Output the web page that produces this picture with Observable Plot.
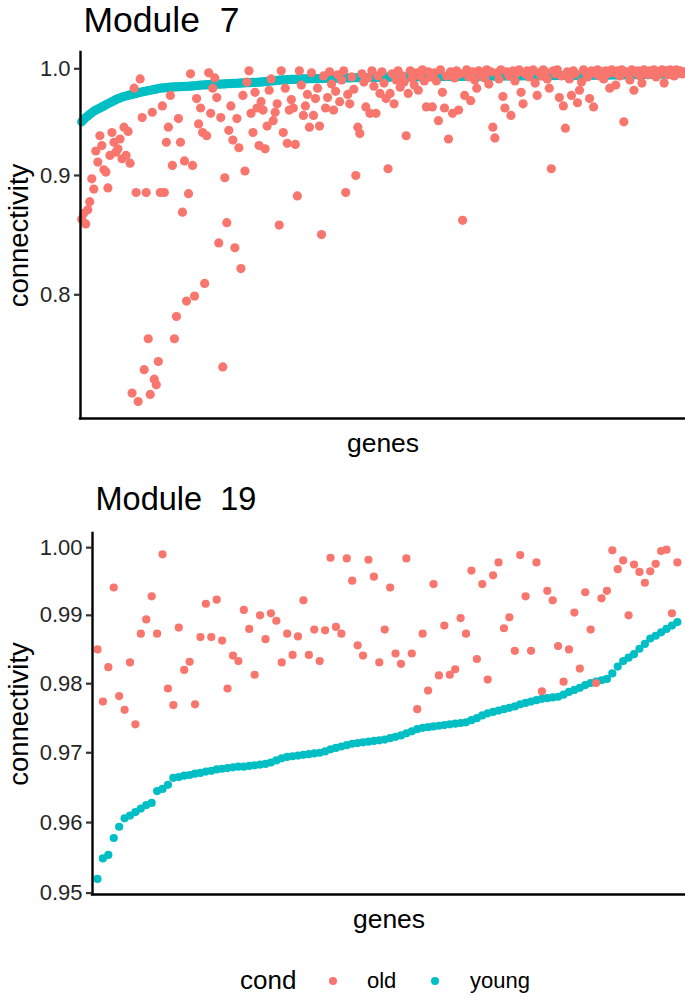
<!DOCTYPE html>
<html>
<head>
<meta charset="utf-8">
<script src="https://cdn.jsdelivr.net/npm/d3@7"></script>
<script src="https://cdn.jsdelivr.net/npm/@observablehq/plot@0.6"></script>
<style>
  body { margin: 0; background: #fff; }
  #wrap { position: relative; width: 685px; height: 999px; overflow: hidden;
          font-family: "Liberation Sans", Arial, Helvetica, sans-serif; color: #000; }
  #wrap text { white-space: pre; }
  .lg { position: absolute; white-space: nowrap; line-height: 1; }
  .dot { position: absolute; border-radius: 50%; }
</style>
</head>
<body>
<div id="wrap"></div>
<script>
// ---------------- data ----------------
const conds = ["old", "young"];
const condColors = ["#F8766D", "#00BFC4"];
const titles = ["Module  7", "Module  19"];
const yTicks7 = [0.8, 0.9, 1.0];
const yTicks19 = [0.95, 0.96, 0.97, 0.98, 0.99, 1.00];

// Module 7: connectivity per gene (genes ordered by young connectivity)
const young7 = [
  .9490,.9510,.9530,.9545,.9560,.9575,.9590,.9600,.9610,.9620,
  .9630,.9640,.9650,.9660,.9670,.9680,.9690,.9700,.9710,.9715,
  .9725,.9730,.9735,.9740,.9745,.9750,.9755,.9760,.9765,.9770,
  .9774,.9778,.9782,.9786,.9790,.9794,.9798,.9802,.9806,.9810,
  .9812,.9814,.9816,.9818,.9820,.9821,.9822,.9823,.9824,.9825,
  .9826,.9827,.9828,.9829,.9830,.9832,.9834,.9836,.9838,.9840,
  .9841,.9842,.9843,.9844,.9845,.9846,.9847,.9848,.9849,.9850,
  .9851,.9852,.9853,.9854,.9855,.9856,.9857,.9858,.9859,.9860,
  .9861,.9862,.9863,.9864,.9865,.9866,.9867,.9868,.9869,.9870,
  .9872,.9874,.9876,.9878,.9880,.9882,.9884,.9886,.9888,.9890,
  .9891,.9892,.9893,.9894,.9895,.9896,.9897,.9898,.9899,.9900,
  .9900,.9901,.9901,.9902,.9902,.9903,.9903,.9904,.9904,.9905,
  .9905,.9906,.9906,.9907,.9907,.9908,.9908,.9909,.9909,.9910,
  .9910,.9910,.9911,.9911,.9911,.9912,.9912,.9912,.9913,.9913,
  .9913,.9914,.9914,.9914,.9915,.9915,.9915,.9916,.9916,.9916,
  .9917,.9917,.9917,.9918,.9918,.9918,.9918,.9919,.9919,.9919,
  .9919,.9920,.9920,.9920,.9920,.9921,.9921,.9921,.9921,.9922,
  .9922,.9922,.9922,.9922,.9923,.9923,.9923,.9923,.9923,.9924,
  .9924,.9924,.9924,.9924,.9925,.9925,.9925,.9925,.9925,.9926,
  .9926,.9926,.9926,.9926,.9926,.9927,.9927,.9927,.9927,.9927,
  .9928,.9928,.9928,.9928,.9928,.9928,.9929,.9929,.9929,.9929,
  .9929,.9929,.9930,.9930,.9930,.9930,.9930,.9930,.9931,.9931,
  .9931,.9931,.9931,.9931,.9932,.9932,.9932,.9932,.9932,.9932,
  .9933,.9933,.9933,.9933,.9933,.9933,.9934,.9934,.9934,.9934,
  .9934,.9934,.9935,.9935,.9935,.9935,.9935,.9935,.9936,.9936,
  .9936,.9936,.9936,.9937,.9937,.9937,.9937,.9937,.9938,.9938,
  .9938,.9938,.9938,.9939,.9939,.9939,.9939,.9940,.9940,.9940,
  .9940,.9941,.9941,.9941,.9942,.9942,.9942,.9943,.9943,.9943,
  .9944,.9944,.9945,.9945,.9946,.9946,.9947,.9947,.9948,.9948,
  .9949,.9950,.9951,.9952,.9953,.9954,.9955,.9957,.9959,.9962
];
const old7 = [
  .862,.867,.858,.870,.877,.897,.888,.922,.912,.936,.927,.905,.903,.889,.918,.939,.930,.921,.924,.933,.915,
  .944,.918,.940,.911,.726,.981,.885,.720,.990,
  .953,.743,.885,.766,.725,.958,.736,.732,.749,.885,
  .964,.885,.930,.944,.974,.909,.766,.783,.952,.930,
  .868,.913,.795,.884,.995,.909,.799,.971,.947,.962,
  .939,.809,.936,.996,.957,.981,.991,.972,.842,.953,
  .745,.898,.859,.941,.964,.932,.838,.952,.925,.821,
  .974,.904,.987,.998,.957,.939,.977,.962,.927,.968,
  .960,.924,.945,.979,.990,.950,.958,.966,.857,.998,
  .939,.981,.929,.960,.970,.962,.928,.882,.998,.984,
  .955,.964,.975,.944,.996,.955,.971,.981,.945,.849,
  .993,.962,.972,.997,.985,.960,.978,.994,.968,.989,
  .998,.885,.975,.966,.992,.980,.900,.944,.938,.995,
  .987,.963,.991,.957,.998,.983,.957,.993,.976,.997,
  .986,.971,.906,.976,.995,.966,.989,.998,.982,.993,
  .987,.936,.976,.998,.991,.984,.996,.979,.993,.999,
  .988,.963,.997,.992,.963,.996,.988,.950,.999,.977,
  .962,.993,.933,.997,.957,.991,.998,.960,.995,.861,
  .974,.999,.992,.969,.997,.989,.981,.998,.994,.996,
  .991,.999,.985,.997,.944,.934,.996,.990,.999,.973,
  .962,.997,.993,.955,.998,.988,.996,.999,.977,.966,
  .995,.998,.992,.997,.999,.986,.974,.996,.993,.999,
  .997,.990,.981,.906,.998,.995,.999,.972,.993,.964,
  .943,.997,.990,.974,.998,.995,.967,.979,.987,.999,
  .996,.992,.971,.998,.963,.995,.999,.993,.997,.990,
  .998,.995,.981,.999,.996,.984,.998,.993,.999,.949,
  .997,.995,.989,.999,.979,.996,.998,.993,.986,.999,
  .997,.994,.998,.996,.999,.992,.997,.995,.999,.986,
  .998,.994,.999,.997,.993,.999,.996,.998,.995,.997
];

// Module 19
const young19 = [
  .9520,.9549,.9554,.9578,.9594,.9606,.9610,.9615,.9620,.9625,
  .9628,.9645,.9648,.9654,.9664,.9665,.9667,.9668,.9670,.9671,
  .9673,.9674,.9676,.9677,.9678,.9679,.9680,.9680,.9681,.9682,
  .9683,.9684,.9686,.9689,.9692,.9694,.9695,.9696,.9697,.9698,
  .9699,.9700,.9702,.9705,.9707,.9709,.9711,.9713,.9714,.9715,
  .9716,.9717,.9718,.9719,.9721,.9723,.9725,.9728,.9731,.9734,
  .9736,.9737,.9738,.9739,.9740,.9741,.9742,.9743,.9744,.9747,
  .9750,.9754,.9757,.9759,.9761,.9763,.9765,.9767,.9770,.9772,
  .9774,.9776,.9778,.9779,.9780,.9781,.9784,.9788,.9791,.9794,
  .9798,.9801,.9803,.9805,.9807,.9815,.9825,.9833,.9838,.9843,
  .9851,.9858,.9866,.9870,.9875,.9880,.9885,.9890
];
const old19 = [
  .9850,.9774,.9824,.9941,.9782,.9762,.9831,.9741,.9873,.9894,
  .9928,.9873,.9990,.9793,.9769,.9882,.9820,.9832,.9770,.9868,
  .9917,.9868,.9923,.9863,.9793,.9841,.9833,.9908,.9880,.9813,
  .9900,.9865,.9903,.9892,.9831,.9873,.9842,.9869,.9922,.9842,
  .9879,.9833,.9878,.9985,.9883,
  .9873,.9984,.9951,.9856,.9841,.9982,.9957,.9831,.9879,.9941,
  .9844,.9829,.9984,.9844,.9763,.9873,.9790,.9946,.9812,.9885,
  .9813,.9821,.9896,.9873,.9966,.9836,.9946,.9806,.9959,.9978,
  .9881,.9897,.9848,.9989,.9928,.9848,.9978,.9789,.9936,.9922,
  .9855,.9803,.9850,.9904,.9822,.9934,.9879,.9801,.9925,.9936,
  .9996,.9968,.9981,.9900,.9975,.9964,.9948,.9965,.9976,.9995,
  .9997,.9903,.9978
];

// ---------------- drawing ----------------
const FONT = "Liberation Sans, Arial, Helvetica, sans-serif";
const wrap = document.getElementById("wrap");

function rows(young, old) {
  const y = young.map((v, i) => ({gene: i + 1, v, cond: conds[1]}));
  const o = old.map((v, i) => ({gene: i + 1, v, cond: conds[0]}));
  return y.concat(o); // young drawn first, old on top
}

function panel({young, old, title, ticks, fmt, yDomain, xDomain, top, height, mt, mb, ml, r, titleDx, titleDy, titleSize}) {
  const data = rows(young, old);
  const f = d3.format(fmt);
  const chart = Plot.plot({
    width: 685, height,
    marginTop: mt, marginBottom: mb, marginLeft: ml, marginRight: 0,
    style: {fontFamily: FONT, background: "transparent", overflow: "visible"},
    x: {domain: xDomain, axis: null},
    y: {type: "log", domain: yDomain, axis: null},
    color: {domain: conds, range: condColors},
    marks: [
      Plot.dot(data, {x: "gene", y: "v", fill: "cond", r, stroke: "none"}),
      Plot.ruleX([xDomain[0]], {stroke: "#000", strokeWidth: 2.4, strokeLinecap: "square"}),
      Plot.ruleY([yDomain[0]], {stroke: "#000", strokeWidth: 2.4, strokeLinecap: "square"}),
      Plot.axisY({ticks, tickFormat: () => "", tickSize: 6, tickPadding: 4,
                  label: null, stroke: "#333", strokeWidth: 2.2}),
      Plot.text(ticks, {y: d => d, text: d => f(d), frameAnchor: "left", dx: -10,
                        textAnchor: "end", lineAnchor: "middle", fontSize: 22, fill: "#262626"}),
      Plot.text([title], {frameAnchor: "top-left", text: d => d, textAnchor: "start",
                          lineAnchor: "bottom", dx: titleDx, dy: titleDy, fontSize: titleSize, fill: "#000"}),
      Plot.text(["connectivity"], {frameAnchor: "left", text: d => d, rotate: -90,
                          textAnchor: "middle", lineAnchor: "bottom", dx: 27 - ml, fontSize: 27.5, fill: "#000"}),
      Plot.text(["genes"], {frameAnchor: "bottom", text: d => d, textAnchor: "middle",
                          lineAnchor: "bottom", dy: 33, fontSize: 26.5, fill: "#000"})
    ]
  });
  chart.style.position = "absolute";
  chart.style.top = top + "px";
  chart.style.left = "0px";
  wrap.appendChild(chart);
}

panel({young: young7, old: old7, title: titles[0], ticks: yTicks7, fmt: ".1f",
       yDomain: [0.708, 1.0162], xDomain: [0.4, 300.6],
       top: 0, height: 460, mt: 52, mb: 42, ml: 80, r: 4.6, titleDx: 3, titleDy: -21, titleSize: 35.5});

panel({young: young19, old: old19, title: titles[1], ticks: yTicks19, fmt: ".2f",
       yDomain: [0.9498, 1.0021], xDomain: [0.08, 109.5],
       top: 480, height: 460, mt: 53, mb: 46, ml: 92, r: 4.1, titleDx: 3, titleDy: -24, titleSize: 32.5});

// ---------------- legend ----------------
function addText(txt, left, baseline, size) {
  const d = document.createElement("div");
  d.className = "lg";
  d.textContent = txt;
  d.style.fontSize = size + "px";
  d.style.left = left + "px";
  d.style.top = (baseline - 0.8465 * size) + "px";
  wrap.appendChild(d);
}
function addDot(cx, cy, r, color) {
  const d = document.createElement("div");
  d.className = "dot";
  d.style.width = d.style.height = (2 * r) + "px";
  d.style.left = (cx - r) + "px";
  d.style.top = (cy - r) + "px";
  d.style.background = color;
  wrap.appendChild(d);
}
addText("cond", 240, 989, 26);
addDot(333, 981, 4.3, condColors[0]);
addText(conds[0], 367, 989, 22);
addDot(435, 981, 4.3, condColors[1]);
addText(conds[1], 470, 989, 22);
</script>
</body>
</html>
